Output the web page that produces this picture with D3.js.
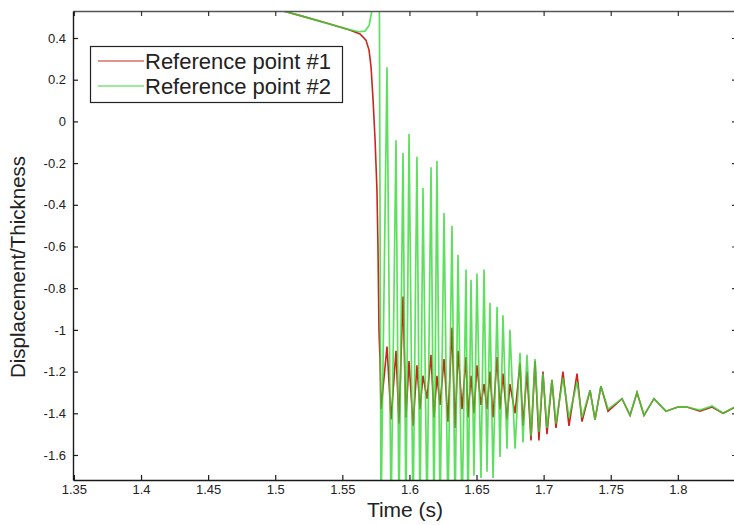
<!DOCTYPE html>
<html>
<head>
<meta charset="utf-8">
<script src="https://cdn.jsdelivr.net/npm/d3@7"></script>
<style>
  body { margin: 0; background: #fff; }
  text { font-family: "Liberation Sans", Arial, sans-serif; fill: #222; }
</style>
</head>
<body>
<script>
// ---- data ----
var seriesNames = ["Reference point #1", "Reference point #2"];
var xTicks = [1.35, 1.4, 1.45, 1.5, 1.55, 1.6, 1.65, 1.7, 1.75, 1.8];
var xTickLabels = ["1.35", "1.4", "1.45", "1.5", "1.55", "1.6", "1.65", "1.7", "1.75", "1.8"];
var yTicks = [0.4, 0.2, 0, -0.2, -0.4, -0.6, -0.8, -1, -1.2, -1.4, -1.6];
var yTickLabels = ["0.4", "0.2", "0", "-0.2", "-0.4", "-0.6", "-0.8", "-1", "-1.2", "-1.4", "-1.6"];

// before the impact: the two points move apart
var timeHead1 = [1.48, 1.50, 1.52, 1.54, 1.555, 1.5632, 1.5676, 1.5699, 1.5714, 1.5729, 1.5744, 1.5758, 1.5766, 1.5773, 1.5781];
var refHead1  = [0.575, 0.54, 0.505, 0.468, 0.44, 0.419, 0.39, 0.342, 0.261, 0.103, -0.089, -0.329, -0.617, -1.0, -1.144];
var timeHead2 = [1.48, 1.50, 1.52, 1.54, 1.555, 1.5625, 1.5668, 1.5700, 1.5720, 1.5740, 1.5775];
var refHead2  = [0.575, 0.54, 0.505, 0.468, 0.44, 0.43, 0.433, 0.46, 0.53, 0.75, 0.8];

// after the impact: shared time grid of peaks and troughs
var timeOsc = [1.5788, 1.5833, 1.5863, 1.5900, 1.5922, 1.5952, 1.5974, 1.5997, 1.6027, 1.6056,
  1.6079, 1.6101, 1.6131, 1.6161, 1.6183, 1.6205, 1.6228, 1.6258, 1.6287, 1.6317,
  1.6340, 1.6362, 1.6392, 1.6422, 1.6436, 1.6459, 1.6481, 1.6503, 1.6533, 1.6556,
  1.6578, 1.6600, 1.6623, 1.6653, 1.6675, 1.6697, 1.6727, 1.6749, 1.6787, 1.6824,
  1.6846, 1.6876, 1.6906, 1.6936, 1.6965, 1.6995, 1.7025, 1.7062, 1.7092, 1.7144,
  1.7189, 1.7249, 1.7286, 1.7346, 1.7383, 1.7427, 1.7480, 1.7584, 1.7644, 1.7696,
  1.7748, 1.7822, 1.7912, 1.8001, 1.8068, 1.8165, 1.8255, 1.8337, 1.8426, 1.8501];
var refOsc1 = [-1.38, -1.08, -1.43, -1.10, -1.45, -0.84, -1.42, -1.15, -1.46, -1.17,
  -1.38, -1.22, -1.33, -1.12, -1.42, -1.22, -1.36, -1.14, -1.44, -0.99,
  -1.47, -1.10, -1.38, -1.13, -1.42, -1.22, -1.40, -1.17, -1.36, -1.26,
  -1.38, -1.20, -1.42, -1.13, -1.38, -1.21, -1.43, -1.26, -1.40, -1.16,
  -1.46, -1.20, -1.53, -1.15, -1.53, -1.20, -1.50, -1.24, -1.47, -1.20,
  -1.46, -1.21, -1.44, -1.29, -1.43, -1.27, -1.39, -1.33, -1.41, -1.30,
  -1.41, -1.33, -1.39, -1.37, -1.37, -1.39, -1.37, -1.40, -1.37, -1.36];
var refOsc2 = [-1.9, 0.26, -1.9, -0.09, -1.9, -0.15, -1.9, -0.06, -1.9, -0.17,
  -1.9, -0.32, -1.9, -0.22, -1.9, -0.19, -1.9, -0.44, -1.9, -0.50,
  -1.9, -0.64, -1.9, -0.71, -1.9, -0.76, -1.70, -0.73, -1.71, -0.71,
  -1.68, -0.87, -1.71, -0.89, -1.61, -0.93, -1.57, -1.00, -1.57, -1.11,
  -1.54, -1.12, -1.51, -1.14, -1.49, -1.21, -1.47, -1.24, -1.45, -1.23,
  -1.42, -1.25, -1.42, -1.29, -1.43, -1.27, -1.38, -1.33, -1.41, -1.30,
  -1.41, -1.33, -1.39, -1.37, -1.37, -1.385, -1.365, -1.40, -1.37, -1.36];

var colors = ["#c8261e", "#34d834"];

// ---- build series ----
function pairs(ts, vs) { return ts.map(function(t, i) { return [t, vs[i]]; }); }
var series = [
  pairs(timeHead1.concat(timeOsc), refHead1.concat(refOsc1)),
  pairs(timeHead2.concat(timeOsc), refHead2.concat(refOsc2))
];

var width = 734, height = 525;
var padL = 73, padR = 737, padT = 11, padB = 480;

var x = d3.scaleLinear().domain([1.3493, 1.8441]).range([padL, padR]);
var y = d3.scaleLinear().domain([-1.72, 0.5295]).range([padB, padT]);

var svg = d3.select("body").append("svg")
    .attr("width", width)
    .attr("height", height);

svg.append("defs").append("clipPath").attr("id", "clip")
  .append("rect")
    .attr("x", padL).attr("y", padT)
    .attr("width", padR - padL).attr("height", padB - padT);

var line = d3.line()
    .x(d => x(d[0]))
    .y(d => y(d[1]));

svg.append("g").attr("clip-path", "url(#clip)")
  .selectAll("path")
  .data(series)
  .enter().append("path")
    .attr("fill", "none")
    .attr("stroke", (d, i) => colors[i])
    .attr("stroke-width", (d, i) => i == 1 ? 1.7 : 1.6)
    .attr("stroke-opacity", (d, i) => i == 1 ? 0.8 : 1)
    .attr("stroke-linejoin", "miter")
    .attr("d", line);

// ---- axes (MATLAB box, ticks pointing in) ----
var gx = svg.append("g")
    .attr("transform", "translate(0," + padB + ")")
    .call(d3.axisBottom(x).tickValues(xTicks).tickSize(-5).tickSizeOuter(0).tickPadding(5)
      .tickFormat((d, i) => xTickLabels[i]));

var gxTop = svg.append("g")
    .attr("transform", "translate(0," + padT + ")")
    .call(d3.axisTop(x).tickValues(xTicks).tickSize(-5).tickSizeOuter(0).tickFormat(""));

var gy = svg.append("g")
    .attr("transform", "translate(" + padL + ",0)")
    .call(d3.axisLeft(y).tickValues(yTicks).tickSize(-5).tickSizeOuter(0).tickPadding(7)
      .tickFormat((d, i) => yTickLabels[i]));

var gyRight = svg.append("g")
    .attr("transform", "translate(" + padR + ",0)")
    .call(d3.axisRight(y).tickValues(yTicks).tickSize(-5).tickSizeOuter(0).tickFormat(""));

[gx, gy].forEach(function(g) {
  g.select(".domain").attr("stroke", "#1a1a1a").attr("stroke-width", 1.4);
  g.selectAll(".tick line").attr("stroke", "#1a1a1a").attr("stroke-width", 1.2);
  g.selectAll(".tick text").style("font-size", "13px").attr("fill", "#2a2a2a");
});
[gxTop, gyRight].forEach(function(g) {
  g.select(".domain").attr("stroke", "#555").attr("stroke-width", 1.4);
  g.selectAll(".tick line").attr("stroke", "#333").attr("stroke-width", 1.2);
});

// axis titles
svg.append("text")
    .attr("x", 405).attr("y", 517)
    .attr("text-anchor", "middle")
    .style("font-size", "21px")
    .text("Time (s)");

svg.append("text")
    .attr("transform", "translate(25,267)rotate(-90)")
    .attr("text-anchor", "middle")
    .style("font-size", "20.5px")
    .text("Displacement/Thickness");

// ---- legend ----
var legend = svg.append("g");
legend.append("rect")
    .attr("x", 90.5).attr("y", 46.5)
    .attr("width", 252).attr("height", 56)
    .attr("fill", "#fff")
    .attr("stroke", "#222").attr("stroke-width", 1.2);

var items = legend.selectAll(".item")
    .data(seriesNames)
  .enter().append("g")
    .attr("class", "item")
    .attr("transform", (d, i) => "translate(0," + (61 + i * 25) + ")");

items.append("line")
    .attr("x1", 98).attr("x2", 144)
    .attr("stroke", (d, i) => colors[i])
    .attr("stroke-width", 1.2);

items.append("text")
    .attr("x", 145).attr("y", 7.5)
    .style("font-size", "22px")
    .text(d => d);
</script>
</body>
</html>
